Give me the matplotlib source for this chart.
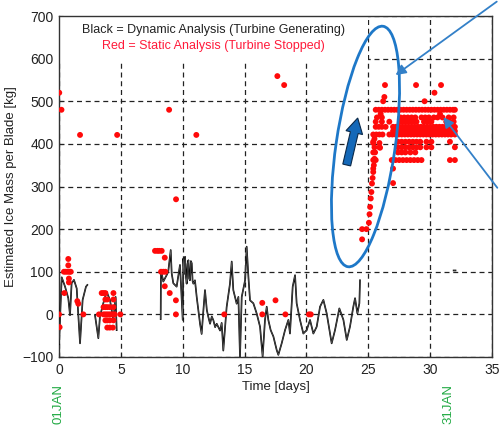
import numpy as np
import matplotlib
matplotlib.use("Agg")
import matplotlib.pyplot as plt
from matplotlib.patches import Ellipse, FancyArrow, Rectangle, FancyArrowPatch
from matplotlib.transforms import IdentityTransform

plt.rcParams['font.family'] = ['Liberation Sans', 'DejaVu Sans']

# ---------------- data ----------------
# Dynamic analysis (black line); NaN marks gaps in the record
dyn_days = [0.0, 0.22, 0.49, 0.75, 0.89, 1.02, 1.21, 1.43, 1.70, 1.91, 2.18, 2.29,
            np.nan,
            2.91, 3.18, 3.31, 3.58, 3.85, 4.12, 4.39, 4.58, 4.66,
            np.nan,
            8.22, 8.24, 8.43, 8.70, 8.83, 9.03, 9.11, 9.24, 9.51, 9.78, 10.0, 10.05,
            10.12, 10.19, 10.26, 10.32, 10.39, 10.46, 10.52, 10.59, 10.66, 10.73, 10.80,
            10.86, 10.99, 11.13, 11.40, 11.53, 11.67, 11.80, 11.95, 12.07, 12.21, 12.35,
            12.48, 12.62, 12.75, 13.02, 13.15, 13.28, 13.55, 13.82, 13.96, 14.09, 14.36,
            14.50, 14.63, 14.77, 15.04, 15.17, 15.31, 15.44, 15.71, 15.98, 16.25, 16.46,
            16.65, 16.79, 16.92, 17.11, 17.33, 17.60, 17.73, 18.0, 18.27, 18.54, 18.67,
            18.89, 19.08, 19.21, 19.48, 19.75, 20.02, 20.29, 20.56, 20.83, 21.10, 21.37,
            21.64, 22.04, 22.31, 22.66, 22.99, 23.26, 23.52, 23.79, 23.93, 24.12, 24.28,
            24.33,
            np.nan,
            31.9, 32.05]
dyn_mass = [-70, 87, 65, 38, -2, 73, 81, 61, -68, 34, 65, 69,
            np.nan,
            -2, -56, -5, 26, 53, 34, -13, 41, -37,
            np.nan,
            -11, 104, 77, 92, 100, 151, 96, 73, 65, 116, -13, 131,
            95, 135, 88, 72, 118, 127, 84, 80, 125, 120, 78,
            72, 80, 41, -22, -46, 9, 57, 10, -6, -22, -5,
            -14, -30, -22, -38, -20, -85, 17, 72, 124, 57, 25,
            41, -100, 41, 80, 159, 88, 33, 26, 2, -29, -99,
            -13, 18, -13, -37, -52, -84, -95, -68, -37, -13, -45,
            65, 92, 26, -13, -45, -37, -13, -45, -29, 18, 34,
            2, -68, -37, 14, -13, -60, -29, 18, 38, 2, 26,
            80,
            np.nan,
            103, 103]

# Static analysis (red dots)
static_days = [
    # isolated high points
    0.02, 0.2, 1.7, 4.7, 8.9, 9.46, 11.1, 17.65, 18.2,
    # first days
    0.0, 0.05, 0.4, 0.55, 0.7, 0.85, 0.95, 0.75, 0.75, 0.8, 0.8, 0.43, 1.48, 1.56, 1.97,
    3.23, 4.96,
    3.45, 3.6, 3.75, 4.4, 3.75, 3.9, 4.4, 3.6, 3.75, 3.9, 4.1, 4.4,
    3.6, 3.75, 3.9, 4.05, 4.2, 4.35, 4.5, 3.75, 3.9, 4.1, 4.4, 3.9, 4.1, 4.35,
    # days 8-10
    7.76, 7.95, 8.1, 8.3, 8.25, 8.43, 8.6, 8.55, 8.55, 8.95, 9.45, 9.45,
    # days 13-21
    13.36, 16.43, 16.43, 17.5, 18.3, 20.2, 20.35,
    # rising column
    24.5, 24.5, 24.85, 25.05, 25.1, 25.15, 25.2, 25.25, 25.3, 25.35, 25.4, 25.45,
    25.5, 25.55, 25.95, 25.4, 25.5, 25.9,
    # plateau
    26.35, 28.86, 30.88, 30.35, 26.3, 26.2, 29.55,
    25.6, 25.85, 26.1, 26.35, 26.6, 26.85, 27.1, 27.35, 27.6, 27.85, 28.1, 28.35, 28.6,
    28.85, 29.1, 29.35, 29.6, 29.85, 30.1, 30.35, 30.6, 30.85, 31.1, 31.35, 31.6, 31.85, 32.0,
    26.0, 30.8,
    25.7, 26.1, 27.6, 27.9, 28.2, 28.5, 28.8, 29.3, 29.6, 29.9, 30.3, 30.6, 31.0, 31.5, 31.9,
    25.6, 26.1, 26.7, 27.6, 27.85, 28.1, 28.35, 28.6, 28.9, 29.5, 29.8, 30.1, 31.3, 31.6, 31.9,
    25.6, 25.85, 26.1, 26.4, 27.0, 27.25, 27.5, 27.75, 28.0, 28.25, 28.5, 28.75, 29.0, 29.25,
    29.5, 29.75, 30.0, 30.25, 30.5, 30.75, 31.0, 31.25, 31.5, 31.75, 32.0,
    27.0, 27.25, 27.5, 27.75, 28.0, 28.25, 28.5, 28.75, 29.0, 29.25, 29.5, 29.75, 30.0,
    30.25, 30.5, 30.75, 31.0, 31.25, 31.5, 31.75, 32.0,
    25.4, 25.65, 25.9, 26.15, 26.7, 26.95, 27.2, 27.45, 27.7, 27.95, 28.2, 28.45, 28.7,
    28.95, 29.2, 29.45, 29.7, 29.95, 30.2, 30.45, 30.7, 30.95, 31.2, 31.45, 31.7, 32.0,
    25.4, 27.4, 27.7, 28.0, 28.3, 28.6, 28.9, 29.2, 29.7, 30.1, 31.6,
    25.5, 25.9, 27.4, 27.7, 28.0, 28.3, 28.6, 28.9, 29.2, 29.7, 30.1, 32.0,
    25.4, 27.4, 27.7, 28.0, 28.4, 28.8,
    25.4, 25.6, 26.9, 27.2, 27.5, 27.8, 28.1, 28.4, 28.7, 29.0, 29.3, 31.6, 32.0,
    25.4, 27.0, 27.0,
]
static_mass = [
    520, 480, 421, 421, 480, 270, 421, 559, 538,
    0, -30, 100, 100, 100, 100, 100, 130, 115, 84, 75, 50, 31, 25, 0,
    0, 0,
    50, 50, 50, 50, 35, 35, 35, 17, 17, 17, 17, 17,
    0, 0, 0, 0, 0, 0, 0, -14, -14, -14, -14, -31, -31, -31,
    149, 149, 149, 149, 100, 100, 100, 133, 66, 50, 33, 0,
    0, 27, 0, 33, 0, 0, 0,
    176, 200, 200, 215, 235, 252, 272, 287, 307, 320, 334, 350,
    365, 380, 391, 402, 412, 402,
    538, 538, 538, 520, 510, 500, 500,
    480, 480, 480, 480, 480, 480, 480, 480, 480, 480, 480, 480, 480,
    480, 480, 480, 480, 480, 480, 480, 480, 480, 480, 480, 480, 480, 480,
    470, 470,
    462, 462, 462, 462, 462, 462, 462, 462, 462, 462, 462, 462, 462, 462, 462,
    452, 452, 452, 452, 452, 452, 452, 452, 452, 452, 452, 452, 452, 452, 452,
    440, 440, 440, 440, 440, 440, 440, 440, 440, 440, 440, 440, 440, 440,
    440, 440, 440, 440, 440, 440, 440, 440, 440, 440, 440,
    430, 430, 430, 430, 430, 430, 430, 430, 430, 430, 430, 430, 430,
    430, 430, 430, 430, 430, 430, 430, 430,
    422, 422, 422, 422, 422, 422, 422, 422, 422, 422, 422, 422, 422,
    422, 422, 422, 422, 422, 422, 422, 422, 422, 422, 422, 422, 422,
    405, 405, 405, 405, 405, 405, 405, 405, 405, 405, 405,
    392, 392, 392, 392, 392, 392, 392, 392, 392, 392, 392, 392,
    380, 380, 380, 380, 380, 380,
    362, 362, 362, 362, 362, 362, 362, 362, 362, 362, 362, 362, 362,
    342, 342, 308,
]

x_ticks = [0, 5, 10, 15, 20, 25, 30, 35]
y_ticks = [-100, 0, 100, 200, 300, 400, 500, 600, 700]
date_labels = ["01JAN", "31JAN"]
date_days = [0.0, 31.5]

# ---------------- figure ----------------
W, H = 499, 428
fig = plt.figure(figsize=(W / 100, H / 100), dpi=100)
ax = fig.add_axes([59 / W, 1 - 357 / H, (492 - 59) / W, (357 - 16) / H])

ax.set_xlim(0, 35)
ax.set_ylim(-100, 700)
ax.set_xticks(x_ticks)
ax.set_yticks(y_ticks)
ax.tick_params(direction='in', length=3, labelsize=10, colors='#222222', pad=4)
for s in ax.spines.values():
    s.set_color('#333333')
    s.set_linewidth(1.0)

ax.grid(True, color='#222222', linestyle=(0, (4, 3)), linewidth=0.9)
ax.set_axisbelow(True)

# white box behind the legend text (hides grid)
ax.add_patch(Rectangle((0, 594), 25, 106, facecolor='white', edgecolor='none', zorder=1.5))

ax.plot(dyn_days, dyn_mass, color='black', linewidth=1.2, zorder=3)
ax.plot(dyn_days, dyn_mass, color='#666666', linewidth=0.4, zorder=3.1)
ax.scatter(static_days, static_mass, s=18, color='#ff0a0a', edgecolors='none', zorder=4)

ax.text(12.45, 667, "Black = Dynamic Analysis (Turbine Generating)", ha='center', va='center',
        fontsize=9, color='#222222', zorder=5)
ax.text(12.45, 629, "Red = Static Analysis (Turbine Stopped)", ha='center', va='center',
        fontsize=9, color='#ff1a3a', zorder=5)

ax.set_xlabel("Time [days]", fontsize=9.5, color='#222222', labelpad=3)
ax.set_ylabel("Estimated Ice Mass per Blade [kg]", fontsize=9.5, color='#222222', labelpad=4)

for lab, d in zip(date_labels, date_days):
    ax.text(d, -0.079, lab, transform=ax.get_xaxis_transform(), rotation=90,
            ha='center', va='top', fontsize=9.5, color='#22aa44', clip_on=False)

# ----- annotations in pixel coordinates -----
ident = IdentityTransform()
blue = '#1e78c8'
ell = Ellipse((365.5, H - 146.5), width=243, height=59, angle=81.7, fill=False,
              edgecolor=blue, linewidth=2.0, transform=ident, zorder=6)
fig.add_artist(ell)

arr = FancyArrow(346.7, H - 165, 11.0, 47, width=8, head_width=17, head_length=15,
                 length_includes_head=True, transform=ident, facecolor='#1468b8',
                 edgecolor='#0a2848', linewidth=0.8, zorder=7)
fig.add_artist(arr)

for (x0, y0, x1, y1) in [(499, 0, 393.3, 76.7), (499, 190, 441.7, 115)]:
    fig.add_artist(FancyArrowPatch(
        (x0, H - y0), (x1, H - y1), transform=ident, arrowstyle='-|>,head_length=6,head_width=3',
        color='#3380c8', linewidth=1.3, mutation_scale=1, zorder=7))

fig.savefig("out.png", dpi=100)
